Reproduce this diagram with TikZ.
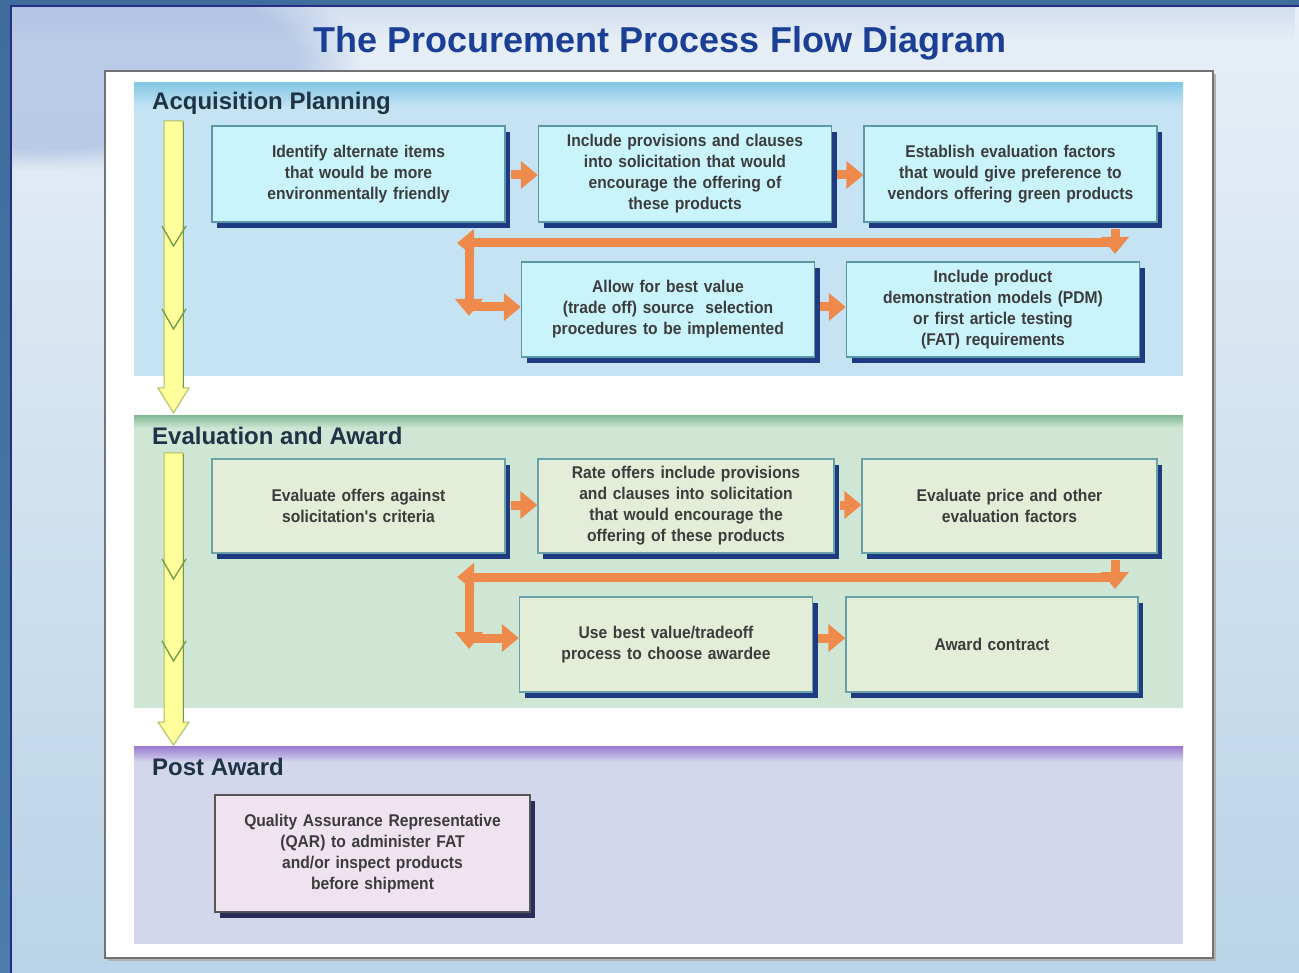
\documentclass[tikz,border=0pt]{standalone}
\usepackage{fontspec}
\setmainfont{Liberation Sans}
\newfontfamily\boxfont[FakeStretch=0.92]{Liberation Sans}
\usetikzlibrary{arrows.meta,shadows,fadings}
\definecolor{steel}{HTML}{4A7CAC}
\definecolor{steeltop}{HTML}{3E6C9C}
\definecolor{navyline}{HTML}{262E86}
\definecolor{bgTop}{HTML}{E8EFF7}
\definecolor{bgBot}{HTML}{B9D4E8}
\definecolor{bgLeft}{HTML}{9DB5DD}
\definecolor{titleblue}{HTML}{1C3F96}
\definecolor{panelborder}{HTML}{727272}
\definecolor{apbg}{HTML}{C6E3F3}
\definecolor{aptop}{HTML}{86C8E6}
\definecolor{eabg}{HTML}{D0E6D4}
\definecolor{eatop}{HTML}{86BC98}
\definecolor{pabg}{HTML}{D3D7EB}
\definecolor{patop}{HTML}{9A78D0}
\definecolor{labelc}{HTML}{1F3347}
\definecolor{apfill}{HTML}{C9F4FB}
\definecolor{apborder}{HTML}{5C98A8}
\definecolor{eafill}{HTML}{E3EDD7}
\definecolor{eaborder}{HTML}{6AA2AA}
\definecolor{pafill}{HTML}{EFE3EF}
\definecolor{paborder}{HTML}{555555}
\definecolor{shadownavy}{HTML}{1E3A80}
\definecolor{shadowpa}{HTML}{2A2C5A}
\definecolor{boxtext}{HTML}{3C3C3C}
\definecolor{orangec}{HTML}{EE8A4C}
\definecolor{yellowc}{HTML}{FFFF9C}
\definecolor{yellowedge}{HTML}{A9BE62}
\definecolor{yellowdark}{HTML}{6E9A4A}
\tikzset{
  basebox/.style={line width=1.3pt, minimum width=293pt, minimum height=96pt,
    text width=280pt, align=center, inner sep=2pt, text=boxtext,
    font=\boxfont\bfseries\fontsize{17}{21}\selectfont,
    drop shadow={shadow xshift=5pt, shadow yshift=-6pt, fill=shadownavy, opacity=1}},
  apbox/.style={basebox, draw=apborder, fill=apfill},
  eabox/.style={basebox, draw=eaborder, fill=eafill},
  pabox/.style={basebox, draw=paborder, fill=pafill,
    drop shadow={shadow xshift=5pt, shadow yshift=-6pt, fill=shadowpa, opacity=1}},
  seclabel/.style={anchor=base west, inner sep=0pt, text=labelc, font=\bfseries\fontsize{24}{28}\selectfont},
  oarrow/.style={draw=orangec, line width=9pt, -{Triangle[length=17pt,width=27pt]}},
  yarrow/.style={fill=yellowc, draw=yellowedge, line width=1pt},
  chev/.style={draw=yellowdark, line width=1.3pt}
}
\begin{document}
\begin{tikzpicture}[x=1pt,y=-1pt]
\useasboundingbox (0,0) rectangle (1299,973);
% slide background
\shade[top color=bgTop, bottom color=bgBot] (0,0) rectangle (1299,973);
\begin{scope}
\clip (10,6) rectangle (1299,973);
\fill[bgLeft, opacity=0.6, path fading=circle with fuzzy edge 20 percent] (40,60) ellipse [x radius=320pt, y radius=110pt];
\end{scope}
\fill[bgLeft, opacity=0.3, path fading=south] (10,6) rectangle (1299,40);
\shade[top color=steeltop, bottom color=steel] (0,0) rectangle (10,973);
\fill[steeltop] (0,0) rectangle (1299,5);
\draw[navyline, line width=2pt] (11,973) -- (11,6) -- (1299,6);
% title
\node[anchor=base, inner sep=0pt, text=titleblue, font=\bfseries\fontsize{36}{40}\selectfont] (title) at (660,53) {The Procurement Process Flow Diagram};
% panel
\fill[black!30] (108,74) rectangle (1216,961);
\draw[panelborder, line width=1.8pt, fill=white] (105,71) rectangle (1213,958);
% sections
\fill[apbg] (134,83) rectangle (1183,376);
\shade[top color=aptop, bottom color=apbg] (134,83) rectangle (1183,108);
\fill[eabg] (134,416) rectangle (1183,708);
\shade[top color=eatop, bottom color=eabg] (134,416) rectangle (1183,428);
\fill[pabg] (134,746) rectangle (1183,944);
\shade[top color=patop, bottom color=pabg] (134,746) rectangle (1183,762);
\node[seclabel] (l1) at (152,110) {Acquisition Planning};
\node[seclabel] (l2) at (152,445) {Evaluation and Award};
\node[seclabel] (l3) at (152,775) {Post Award};
% yellow arrows
\path[yarrow] (164,121) -- (183,121) -- (183,388) -- (189,388) -- (173.5,413) -- (158,388) -- (164,388) -- cycle;
\draw[yellowdark, line width=1.5pt] (183.5,122) -- (183.5,388);
\draw[chev] (162,226) -- (173.5,246) -- (186,226);
\draw[chev] (162,309) -- (173.5,329) -- (186,309);
\path[yarrow] (164,453) -- (183,453) -- (183,722) -- (189,722) -- (173.5,745) -- (158,722) -- (164,722) -- cycle;
\draw[yellowdark, line width=1.5pt] (183.5,454) -- (183.5,722);
\draw[chev] (162,559) -- (173.5,579) -- (186,559);
\draw[chev] (162,641) -- (173.5,661) -- (186,641);
% acquisition planning boxes
\node[apbox] (B1) at (358.5,174) {Identify alternate items\\that would be more\\environmentally friendly};
\node[apbox] (B2) at (685,174) {Include provisions and clauses\\into solicitation that would\\encourage the offering of\\these products};
\node[apbox] (B3) at (1010.5,174) {Establish evaluation factors\\that would give preference to\\vendors offering green products};
\node[apbox, minimum height=95pt] (B4) at (668,309.5) {Allow for best value\\(trade off) source\ \ selection\\procedures to be implemented};
\node[apbox, minimum height=95pt] (B5) at (993,309.5) {Include product\\demonstration models (PDM)\\or first article testing\\(FAT) requirements};
% evaluation and award boxes
\node[eabox, minimum height=94pt] (C1) at (358.5,506) {Evaluate offers against\\solicitation's criteria};
\node[eabox, minimum height=94pt, minimum width=296pt] (C2) at (686,506) {Rate offers include provisions\\and clauses into solicitation\\that would encourage the\\offering of these products};
\node[eabox, minimum height=94pt, minimum width=295pt] (C3) at (1009.5,506) {Evaluate price and other\\evaluation factors};
\node[eabox, minimum height=95pt] (C4) at (666,644.5) {Use best value/tradeoff\\process to choose awardee};
\node[eabox, minimum height=95pt, minimum width=292pt] (C5) at (992,644.5) {Award contract};
% post award box
\node[pabox, minimum width=315pt, minimum height=117pt] (Q) at (372.5,853.5) {Quality Assurance Representative\\(QAR) to administer FAT\\and/or inspect products\\before shipment};
% orange connectors row 1
\coordinate (r1) at (0,175);
\draw[oarrow, shorten <=5pt] (B1.east |- r1) -- (B2.west |- r1);
\draw[oarrow, shorten <=5pt] (B2.east |- r1) -- (B3.west |- r1);
\coordinate (L1d) at (1115,254);
\coordinate (L1r) at (1115,243);
\coordinate (L1l) at (469,243);
\coordinate (L1tip) at (457,243);
\coordinate (L1b) at (469,316);
\coordinate (L1m) at (469,307);
\draw[oarrow] (L1r) -- (L1tip);
\draw[oarrow] (L1l) -- (L1b);
\draw[oarrow] (L1m) -- (B4.west |- L1m);
\draw[oarrow, shorten <=6pt] (B3.south -| L1d) -- (L1d);
\draw[oarrow, shorten <=5pt] (B4.east |- L1m) -- (B5.west |- L1m);
% orange connectors row 2
\coordinate (r2) at (0,505);
\draw[oarrow, shorten <=5pt] (C1.east |- r2) -- (C2.west |- r2);
\draw[oarrow, shorten <=5pt] (C2.east |- r2) -- (C3.west |- r2);
\coordinate (L2d) at (1115,589);
\coordinate (L2r) at (1115,577);
\coordinate (L2l) at (469,577);
\coordinate (L2tip) at (457,577);
\coordinate (L2b) at (469,649);
\coordinate (L2m) at (469,638);
\draw[oarrow] (L2r) -- (L2tip);
\draw[oarrow] (L2l) -- (L2b);
\draw[oarrow] (L2m) -- (C4.west |- L2m);
\draw[oarrow, shorten <=6pt] (C3.south -| L2d) -- (L2d);
\draw[oarrow, shorten <=5pt] (C4.east |- L2m) -- (C5.west |- L2m);
\end{tikzpicture}
\end{document}
